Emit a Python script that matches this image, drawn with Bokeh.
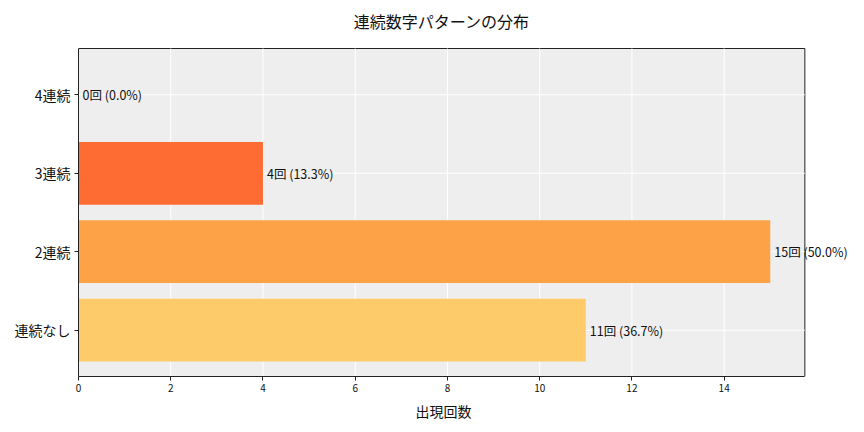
from bokeh.plotting import figure
from bokeh.models import ColumnDataSource, FixedTicker, Range1d, Label, Title
from bokeh.embed import file_html
from bokeh.resources import INLINE

categories = ["連続なし", "2連続", "3連続", "4連続"]
counts = [11, 15, 4, 0]
percents = [36.7, 50.0, 13.3, 0.0]
colors = ["#FECB6A", "#FEA248", "#FE6B33", "#FE6B33"]
x_ticks = [0, 2, 4, 6, 8, 10, 12, 14]
title_text = "連続数字パターンの分布"
xlabel_text = "出現回数"

FONT = "Noto Sans CJK JP"
X_MAX = 15.75          # visible axis end
Y_MIN, Y_MAX = -0.59, 3.59
TOP_PAD_PX, AXES_H_PX = 48, 328
Y_TOP = Y_MAX + TOP_PAD_PX / AXES_H_PX * (Y_MAX - Y_MIN)

pos = list(range(len(categories)))
labels = [f"{c}回 ({p:.1f}%)" for c, p in zip(counts, percents)]
src = ColumnDataSource(dict(y=pos, right=counts, color=colors, label=labels))

# frame extends right and up so labels/title are not clipped
p = figure(width=864, height=432, output_backend="svg", toolbar_location=None,
           x_range=Range1d(0, 17.0), y_range=Range1d(Y_MIN, Y_TOP),
           min_border_left=78, min_border_right=2, min_border_top=0, min_border_bottom=56)

p.background_fill_color = "white"
p.border_fill_color = "white"
p.outline_line_color = None

# axes area background + border
p.quad(left=0, right=X_MAX, bottom=Y_MIN, top=Y_MAX, fill_color="#EEEEEE",
       line_color="#222222", line_width=1, level="image")

# grid lines limited to axes area
p.segment(x0=[0] * len(pos), x1=[X_MAX] * len(pos), y0=pos, y1=pos,
          line_color="white", line_width=1, level="underlay")
p.segment(x0=x_ticks, x1=x_ticks, y0=[Y_MIN] * len(x_ticks), y1=[Y_MAX] * len(x_ticks),
          line_color="white", line_width=1, level="underlay")

p.hbar(y="y", left=0, right="right", height=0.8, color="color", line_color=None, source=src)
for yv, xv, t in zip(pos, counts, labels):
    p.add_layout(Label(x=xv, y=yv, text=t, x_offset=4, x_units="data", y_units="data",
                       text_baseline="middle", text_align="left", text_font_size="12.5px",
                       text_font=FONT, text_color="#111111"))

# chart title above the axes area
p.add_layout(Label(x=X_MAX / 2, y=Y_MAX, y_offset=28, text=title_text,
                   text_baseline="middle", text_align="center", text_font_size="16px",
                   text_font=FONT, text_color="#111111"))

p.xgrid.grid_line_color = None
p.ygrid.grid_line_color = None

p.xaxis.ticker = FixedTicker(ticks=x_ticks)
p.xaxis.bounds = (0, X_MAX)
p.yaxis.ticker = FixedTicker(ticks=pos)
p.yaxis.bounds = (Y_MIN, Y_MAX)
p.yaxis.major_label_overrides = {i: c for i, c in enumerate(categories)}
for ax in (p.xaxis[0], p.yaxis[0]):
    ax.axis_line_color = "#222222"
    ax.major_tick_line_color = "#222222"
    ax.major_tick_out = 4
    ax.major_tick_in = 0
    ax.minor_tick_line_color = None
    ax.major_label_text_font = FONT
    ax.major_label_text_color = "#111111"
p.xaxis.major_label_text_font_size = "10px"
p.yaxis.major_label_text_font_size = "14px"
p.yaxis.major_label_standoff = 4
p.xaxis.major_label_standoff = 3

# x-axis label as a title below, positioned over the visible axis area
p.add_layout(Title(text=xlabel_text, align="left", offset=337, standoff=8,
                   text_font=FONT, text_font_size="14px", text_font_style="normal",
                   text_color="#111111"), "below")

open("out.html", "w").write(file_html(p, INLINE))
